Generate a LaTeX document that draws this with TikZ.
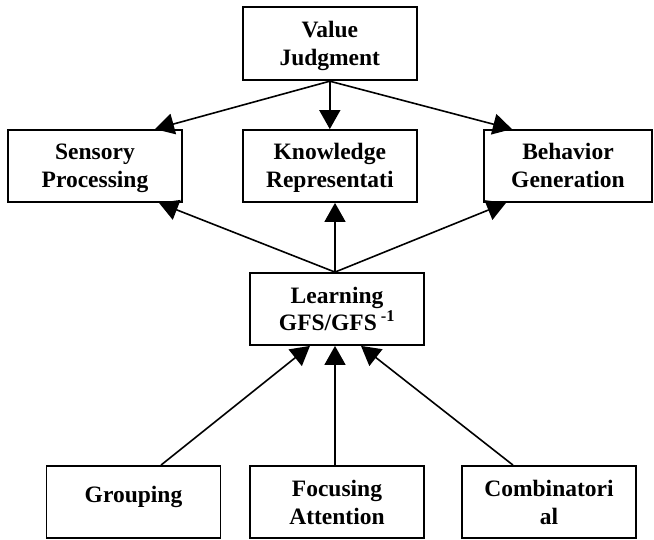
\documentclass[tikz,border=0pt]{standalone}
\usepackage{fontspec}
\setmainfont{Liberation Serif}
\usetikzlibrary{arrows.meta}
\newcommand\bxstrut{\rule[-4pt]{0pt}{24pt}}
\begin{document}
\begin{tikzpicture}[x=1pt,y=-1pt,
  box/.style={draw,line width=1.8pt,minimum width=174pt,minimum height=72pt,inner sep=0pt,align=center,
    font=\fontsize{23.5}{28}\selectfont\bfseries},
  arr/.style={line width=1.6pt,-{Triangle[length=19pt,width=21pt]}}]
\useasboundingbox (0,0) rectangle (654,540);
\node[box,minimum height=73pt] (vj) at (329.8,43.8) {\bxstrut Value\\\bxstrut Judgment};
\node[box] (sp) at (95,166) {\bxstrut Sensory\\\bxstrut Processing};
\node[box] (kr) at (329.8,166) {\bxstrut Knowledge\\\bxstrut Representati};
\node[box,minimum width=168pt] (bg) at (568,166) {\bxstrut Behavior\\\bxstrut Generation};
\node[box] (ln) at (337,309) {\bxstrut Learning\\\bxstrut GFS/GFS\,\textsuperscript{-1}};
\node[box,text height=16pt,text depth=16pt] (gr) at (133.5,502) {Grouping};
\node[box] (fa) at (337,502) {\bxstrut Focusing\\\bxstrut Attention};
\node[box] (co) at (549,502) {\bxstrut Combinatori\\\bxstrut al};
% top level arrows
\draw[arr] (vj.south) -- ([xshift=60pt]sp.north);
\draw[arr] (vj.south) -- (vj.south |- kr.north);
\draw[arr] (vj.south) -- ([xshift=-56pt]bg.north);
% learning upward
\draw[arr] ([xshift=-2pt]ln.north) -- ([xshift=64pt]sp.south);
\draw[arr] ([xshift=-2pt]ln.north) -- ([xshift=-2pt]ln.north |- kr.south);
\draw[arr] ([xshift=-2pt]ln.north) -- ([xshift=-62pt]bg.south);
% bottom
\draw[arr] ([xshift=27.5pt]gr.north) -- ([xshift=-27pt]ln.south);
\draw[arr] ([xshift=-2pt]fa.north) -- ([xshift=-2pt]ln.south);
\draw[arr] ([xshift=-36pt]co.north) -- ([xshift=24pt]ln.south);
\end{tikzpicture}
\end{document}
